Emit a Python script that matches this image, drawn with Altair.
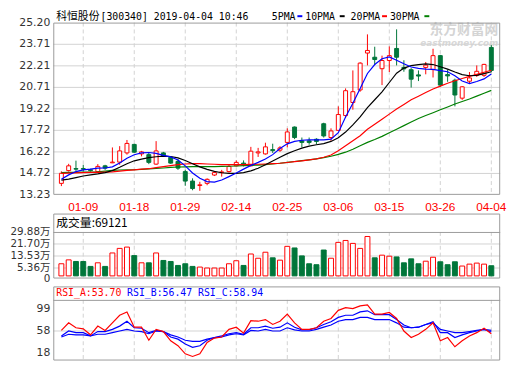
import altair as alt
import pandas as pd

# ---------------- data ----------------
DATES = ["01-04","01-07","01-08","01-09","01-10","01-11","01-14","01-15","01-16","01-17",
         "01-18","01-21","01-22","01-23","01-24","01-25","01-28","01-29","01-30","01-31",
         "02-01","02-11","02-12","02-13","02-14","02-15","02-18","02-19","02-20","02-21",
         "02-22","02-25","02-26","02-27","02-28","03-01","03-04","03-05","03-06","03-07",
         "03-08","03-11","03-12","03-13","03-14","03-15","03-18","03-19","03-20","03-21",
         "03-22","03-25","03-26","03-27","03-28","03-29","04-01","04-02","04-03","04-04"]

OPEN = [14.03,14.92,15.06,15.06,14.98,14.85,15.25,15.46,15.51,16.15,
        16.74,16.08,16.03,15.37,16.15,15.84,15.56,14.85,14.19,13.88,
        14.03,14.61,14.78,14.85,15.25,15.44,15.25,16.15,16.08,16.38,
        16.34,16.88,17.95,16.99,16.99,17.10,18.18,17.22,17.72,18.75,
        19.66,20.53,23.10,22.81,22.01,22.58,23.42,22.10,21.94,21.58,
        22.10,21.95,22.92,21.60,21.21,19.96,21.14,21.55,21.55,23.49]
HIGH = [14.87,15.39,15.61,15.32,15.05,15.37,15.32,16.53,16.62,17.05,
        16.79,16.29,16.15,16.97,16.22,15.91,15.72,14.97,14.38,14.14,
        14.38,14.85,14.97,15.32,15.63,15.63,16.57,16.50,16.86,16.79,
        16.62,17.86,17.99,17.22,17.22,17.17,18.25,17.86,19.39,20.64,
        21.89,22.46,24.40,23.54,22.92,23.56,24.75,22.60,22.05,21.89,
        22.48,23.40,22.97,21.95,21.32,20.80,21.78,22.24,22.35,23.65]
LOW = [13.84,14.85,14.90,14.85,14.85,14.78,14.97,15.44,15.32,16.03,
       16.15,15.91,15.37,15.32,15.87,15.39,14.97,13.86,13.55,13.51,
       13.90,14.54,14.50,14.78,15.21,15.21,15.21,15.87,16.03,16.15,
       16.22,16.54,17.11,16.54,16.72,16.76,17.22,16.99,17.68,18.59,
       19.16,20.41,22.24,22.28,20.87,21.78,22.24,21.80,20.70,21.15,
       21.62,21.40,20.75,21.10,19.39,19.84,20.98,21.44,21.44,21.78]
CLOSE = [14.73,15.25,15.02,15.02,14.92,15.21,15.09,15.51,16.29,16.81,
         16.20,16.22,15.49,16.29,15.91,15.44,15.09,14.19,13.67,13.93,
         14.31,14.78,14.83,15.21,15.49,15.32,16.27,16.22,16.57,16.31,
         16.50,17.61,17.22,16.88,16.88,16.95,17.33,17.68,18.82,20.48,
         20.41,22.40,23.28,22.65,22.58,22.92,22.81,22.00,21.28,21.50,
         22.26,22.92,20.87,21.51,20.18,20.75,21.37,21.83,22.31,21.89]
# volume in units of 10k (万)
VOL = [8.25,10.9,9.8,9.8,6.44,8.9,6.44,15.6,18.7,19.6,
       13.8,8.9,8.9,15.6,10.5,9.8,7.1,8.25,6.44,6.0,
       5.36,5.36,5.36,8.25,10.3,7.1,14.9,12.0,16.1,12.3,
       10.7,20.1,19.0,13.6,8.25,7.6,17.6,12.0,22.8,24.1,
       22.1,18.7,26.8,12.3,14.1,13.4,12.9,8.9,11.6,8.25,
       10.0,12.7,9.6,7.6,9.6,6.7,8.0,8.7,8.0,6.9121]
MA5 = [14.31,14.62,14.85,14.97,15.02,15.09,15.10,15.18,15.45,15.78,
       16.02,16.15,16.18,16.12,15.98,15.87,15.66,15.25,14.75,14.38,
       14.15,14.12,14.26,14.50,14.75,15.02,15.28,15.49,15.72,16.03,
       16.45,16.78,16.95,17.03,17.06,17.06,17.06,17.11,17.56,18.65,
       19.60,20.64,21.68,22.30,22.70,22.83,22.60,22.35,22.13,22.03,
       21.98,21.96,21.88,21.80,21.52,21.15,20.98,21.12,21.30,21.64]
MA10 = [14.26,14.33,14.43,14.54,14.62,14.69,14.78,14.92,15.15,15.40,
        15.60,15.72,15.82,15.88,15.92,15.90,15.80,15.62,15.40,15.18,
        15.00,14.86,14.77,14.72,14.72,14.78,14.90,15.08,15.32,15.58,
        15.85,16.10,16.30,16.48,16.62,16.72,16.80,16.95,17.20,17.60,
        18.10,18.65,19.30,19.85,20.40,21.05,21.70,22.05,22.22,22.30,
        22.35,22.30,22.15,21.98,21.78,21.60,21.52,21.55,21.67,21.80]
MA20 = [14.73,14.74,14.76,14.78,14.80,14.80,14.81,14.83,14.88,14.93,
        14.97,15.02,15.05,15.12,15.20,15.27,15.33,15.38,15.40,15.40,
        15.38,15.36,15.34,15.33,15.33,15.33,15.35,15.36,15.38,15.40,
        15.43,15.48,15.54,15.60,15.66,15.73,15.85,16.00,16.30,16.65,
        17.00,17.35,17.80,18.15,18.50,18.85,19.20,19.52,19.85,20.10,
        20.35,20.60,20.80,21.00,21.17,21.33,21.48,21.62,21.76,21.90]
MA30 = [14.78,14.79,14.80,14.81,14.82,14.84,14.88,14.93,14.96,14.97,
        14.98,15.00,15.03,15.07,15.10,15.14,15.17,15.18,15.19,15.19,
        15.19,15.20,15.21,15.22,15.24,15.26,15.28,15.30,15.34,15.38,
        15.43,15.49,15.55,15.61,15.67,15.74,15.82,15.92,16.05,16.20,
        16.40,16.65,16.88,17.08,17.30,17.55,17.80,18.05,18.30,18.55,
        18.75,18.95,19.15,19.35,19.55,19.73,19.90,20.10,20.30,20.50]
RSI_A = [58.9,70.8,63.1,61.4,52.0,65.7,58.9,70.8,82.8,87.9,
         64.0,64.0,43.5,60.6,57.1,42.6,34.9,22.1,18.0,22.1,
         40.0,46.9,48.6,60.6,64.0,54.6,74.3,73.4,76.0,68.3,
         73.4,84.5,70.8,60.6,60.6,63.1,73.4,77.7,90.5,94.8,
         93.1,97.5,99.0,84.5,84.5,87.1,77.7,58.0,47.7,52.9,
         60.6,70.8,42.6,47.7,33.2,42.6,50.3,55.4,62.3,53.70]
RSI_B = [50.3,58.0,55.4,55.4,50.3,57.1,57.1,60.6,65.7,73.4,
         63.1,62.3,55.4,58.9,57.1,48.6,45.2,37.5,32.3,34.9,
         43.5,47.7,50.3,53.7,55.4,52.9,63.1,63.1,65.7,62.3,
         64.0,70.8,64.0,59.7,59.7,63.1,68.3,72.5,79.4,82.8,
         82.8,88.0,89.7,83.7,83.7,83.7,76.0,67.4,63.1,64.0,
         68.3,72.5,55.4,55.4,47.7,52.0,55.4,58.0,60.6,56.47]
RSI_C = [48.6,52.9,52.0,52.0,50.3,52.9,52.9,55.4,58.0,60.6,
         58.0,57.1,53.7,58.0,57.1,52.0,48.6,43.5,41.7,41.7,
         45.2,47.7,48.6,52.0,53.7,52.0,58.9,58.0,60.6,58.0,
         58.0,63.1,59.7,58.0,58.0,60.6,64.0,67.4,73.4,76.0,
         76.0,79.4,79.4,76.0,76.0,76.0,70.8,64.0,63.1,64.0,
         68.3,70.8,60.6,58.0,55.4,55.4,57.1,58.9,60.6,58.94]

PRICE_TICKS = [25.20, 23.71, 22.21, 20.71, 19.22, 17.72, 16.22, 14.72, 13.23]
VOL_TICKS = [5.36, 13.53, 21.70, 29.88]
RSI_TICKS = [99, 58, 18]
DATE_TICKS = ["01-09", "01-18", "01-29", "02-14", "02-25", "03-06", "03-15", "03-26", "04-04"]
STOCK = "科恒股份"
HEADER = "[300340] 2019-04-04 10:46"
MA_NAMES = ["5PMA", "10PMA", "20PMA", "30PMA"]

# ---------------- style ----------------
RED = "#ff0000"
GREEN = "#00763a"
MAGREEN = "#008000"
BLUE = "#0000ff"
BLACK = "#000000"
GRID = "#d2d2d2"
FRAME = "#9a9a9a"
LABEL = "#333333"
MONO = "DejaVu Sans Mono"
CJK = "Noto Sans CJK SC"
SANS = "DejaVu Sans, Noto Sans CJK SC"

W = 454
MAIN_H = 175
VOL_TOP, VOL_SEP, VOL_BOT = 194, 212.7, 260
RSI_TOP, RSI_SEP, RSI_BOT = 268, 281.7, 343.3
HEAD_Y = -5.5

df = pd.DataFrame({
    "i": list(range(1, len(DATES) + 1)), "date": DATES,
    "o": OPEN, "h": HIGH, "l": LOW, "c": CLOSE, "v": VOL,
    "ma5": MA5, "ma10": MA10, "ma20": MA20, "ma30": MA30,
    "ra": RSI_A, "rb": RSI_B, "rc": RSI_C,
})
ddf = pd.DataFrame({"t": DATE_TICKS, "i": [DATES.index(t) + 1 for t in DATE_TICKS]})
one = pd.DataFrame({"a": [0]})

X = alt.Scale(domain=[0.564, 60.54], nice=False, zero=False)
YM = alt.Scale(domain=[13.23, 25.22], range=[MAIN_H, 0], nice=False, zero=False)
YV = alt.Scale(domain=[-1.8, 29.88], range=[VOL_BOT, VOL_SEP], nice=False, zero=False)
YR = alt.Scale(domain=[11.6, 106.9], range=[RSI_BOT, RSI_SEP], nice=False, zero=False)

xi = alt.X("i:Q", scale=X, axis=None)
UP = "datum.c >= datum.o"
base = alt.Chart(df)


def frame(y1, y2):
    return alt.Chart(one).mark_rect(fill="transparent", stroke=FRAME, strokeWidth=1).encode(
        x=alt.value(0.5), x2=alt.value(W - 0.5), y=alt.value(y1 + 0.5), y2=alt.value(y2 - 0.5))


def hline(y, color=FRAME):
    return alt.Chart(one).mark_rule(color=color, strokeWidth=1).encode(
        x=alt.value(0), x2=alt.value(W), y=alt.value(y))


def vgrid(y1, y2):
    return alt.Chart(ddf).mark_rule(color=GRID, strokeDash=[4, 3], strokeWidth=1).encode(
        x=xi, y=alt.value(y1), y2=alt.value(y2))


def txt(s, x, y, color=BLACK, size=12, font=MONO, align="left", weight="normal", style="normal"):
    return alt.Chart(pd.DataFrame({"s": [s]})).mark_text(
        align=align, baseline="middle", color=color, fontSize=size, font=font,
        fontWeight=weight, fontStyle=style).encode(x=alt.value(x), y=alt.value(y), text="s:N")


# ---------------- main price panel ----------------
pt = pd.DataFrame({"p": PRICE_TICKS, "lab": [f"{p:.2f}" for p in PRICE_TICKS]})
main_grid = alt.Chart(pt.iloc[1:-1]).mark_rule(color=GRID, strokeWidth=1).encode(
    y=alt.Y("p:Q", scale=YM, axis=None), x=alt.value(0), x2=alt.value(W))
wick = base.mark_rule(strokeWidth=1).encode(
    x=xi, y=alt.Y("l:Q", scale=YM, axis=None), y2="h:Q",
    color=alt.condition(UP, alt.value(RED), alt.value(GREEN)))
body = base.mark_bar(size=4, strokeWidth=1, orient="vertical").encode(
    x=xi, y=alt.Y("o:Q", scale=YM, axis=None), y2="c:Q",
    fill=alt.condition(UP, alt.value("white"), alt.value(GREEN)),
    stroke=alt.condition(UP, alt.value(RED), alt.value(GREEN)))
ma_lines = [
    base.mark_line(color=col, strokeWidth=1.2).encode(x=xi, y=alt.Y(f"{f}:Q", scale=YM, axis=None))
    for f, col in [("ma30", MAGREEN), ("ma20", RED), ("ma10", BLACK), ("ma5", BLUE)]
]
main_labels = alt.Chart(pt).mark_text(align="right", baseline="middle", font=SANS, fontSize=11,
                                      color=LABEL).encode(
    y=alt.Y("p:Q", scale=YM, axis=None), x=alt.value(-3), text="lab:N")
date_labels = alt.Chart(ddf).mark_text(baseline="middle", font="Liberation Sans", fontSize=12,
                                       color=RED).encode(x=xi, y=alt.value(187), text="t:N")
watermark = alt.layer(
    txt("东方财富网", W - 2, 7.5, color="#d4d4d4", size=14, font=CJK, align="right", weight="bold"),
    txt("eastmoney.com", W - 2, 20.5, color="#d8d8d8", size=9, font="DejaVu Sans",
        align="right", weight="bold", style="italic"),
)
main = alt.layer(watermark, main_grid, vgrid(0, MAIN_H), wick, body, *ma_lines,
                 frame(0, MAIN_H), main_labels, date_labels)

# ---------------- volume panel ----------------
vt = pd.DataFrame({"v": VOL_TICKS, "lab": [f"{v:.2f}万" for v in VOL_TICKS]})
vol_grid = alt.Chart(vt.iloc[:-1]).mark_rule(color=GRID, strokeWidth=1).encode(
    y=alt.Y("v:Q", scale=YV, axis=None), x=alt.value(0), x2=alt.value(W))
vol_bars = base.mark_bar(size=5, strokeWidth=1, orient="vertical").encode(
    x=xi, y=alt.Y("v:Q", scale=YV, axis=None), y2=alt.value(VOL_BOT),
    fill=alt.condition(UP, alt.value("white"), alt.value(GREEN)),
    stroke=alt.condition(UP, alt.value(RED), alt.value(GREEN)))
vol_labels = alt.Chart(vt).mark_text(align="right", baseline="middle", font=SANS, fontSize=10.5,
                                     color=LABEL).encode(
    y=alt.Y("v:Q", scale=YV, axis=None), x=alt.value(-3), text="lab:N")
vol = alt.layer(
    vol_grid, vgrid(VOL_SEP, VOL_BOT), vol_bars, vol_labels,
    txt("0", -3, VOL_BOT + 1, color=LABEL, size=10.5, font=SANS, align="right"),
    frame(VOL_TOP, VOL_BOT), hline(VOL_SEP + 0.5),
    txt(f"成交量:{round(VOL[-1] * 10000)}", 3, VOL_TOP + 9.5, size=12, font=CJK),
)

# ---------------- RSI panel ----------------
rsi_grid = alt.Chart(pd.DataFrame({"r": [58]})).mark_rule(color=GRID, strokeWidth=1).encode(
    y=alt.Y("r:Q", scale=YR, axis=None), x=alt.value(0), x2=alt.value(W))
rsi_lines = [
    base.mark_line(color=col, strokeWidth=1.2).encode(x=xi, y=alt.Y(f"{f}:Q", scale=YR, axis=None))
    for f, col in [("rc", BLUE), ("rb", BLUE), ("ra", RED)]
]
rsi_label_layers = []
for val, dy in zip(RSI_TICKS, [4, 0, -3]):
    rsi_label_layers.append(
        alt.Chart(pd.DataFrame({"r": [val], "lab": [str(val)]})).mark_text(
            align="right", baseline="middle", font=SANS, fontSize=11, color=LABEL, dy=dy).encode(
            y=alt.Y("r:Q", scale=YR, axis=None), x=alt.value(-3), text="lab:N"))
rsi = alt.layer(
    rsi_grid, vgrid(RSI_SEP, RSI_BOT), *rsi_lines, *rsi_label_layers,
    frame(RSI_TOP, RSI_BOT), hline(RSI_SEP + 0.5),
    txt(f"RSI_A:{RSI_A[-1]:.2f}", 3, RSI_TOP + 6.5, color=RED, size=10),
    txt(f"RSI_B:{RSI_B[-1]:.2f}", 75, RSI_TOP + 6.5, color=BLUE, size=10),
    txt(f"RSI_C:{RSI_C[-1]:.2f}", 147, RSI_TOP + 6.5, color=BLUE, size=10),
)

# ---------------- header ----------------
def dash(x1, x2, color):
    return alt.Chart(one).mark_rule(color=color, strokeWidth=2).encode(
        x=alt.value(x1), x2=alt.value(x2), y=alt.value(HEAD_Y - 1))

header = alt.layer(
    txt(STOCK, 3, HEAD_Y, size=11, font=CJK),
    txt(HEADER, 48, HEAD_Y, size=10),
    txt(MA_NAMES[0], 222, HEAD_Y, size=10), dash(248, 253, BLUE),
    txt(MA_NAMES[1], 256, HEAD_Y, size=10), dash(291, 296, BLACK),
    txt(MA_NAMES[2], 302, HEAD_Y, size=10), dash(334, 339, RED),
    txt(MA_NAMES[3], 342, HEAD_Y, size=10), dash(377, 382, MAGREEN),
)

chart = alt.layer(main, vol, rsi, header).resolve_scale(y="independent").properties(
    width=W, height=344,
    autosize=alt.AutoSizeParams(type="none"),
    padding={"left": 46, "top": 12, "right": 12, "bottom": 0},
).configure_view(strokeWidth=0)

chart.save("out.html", embed_options={"renderer": "svg", "actions": False})
